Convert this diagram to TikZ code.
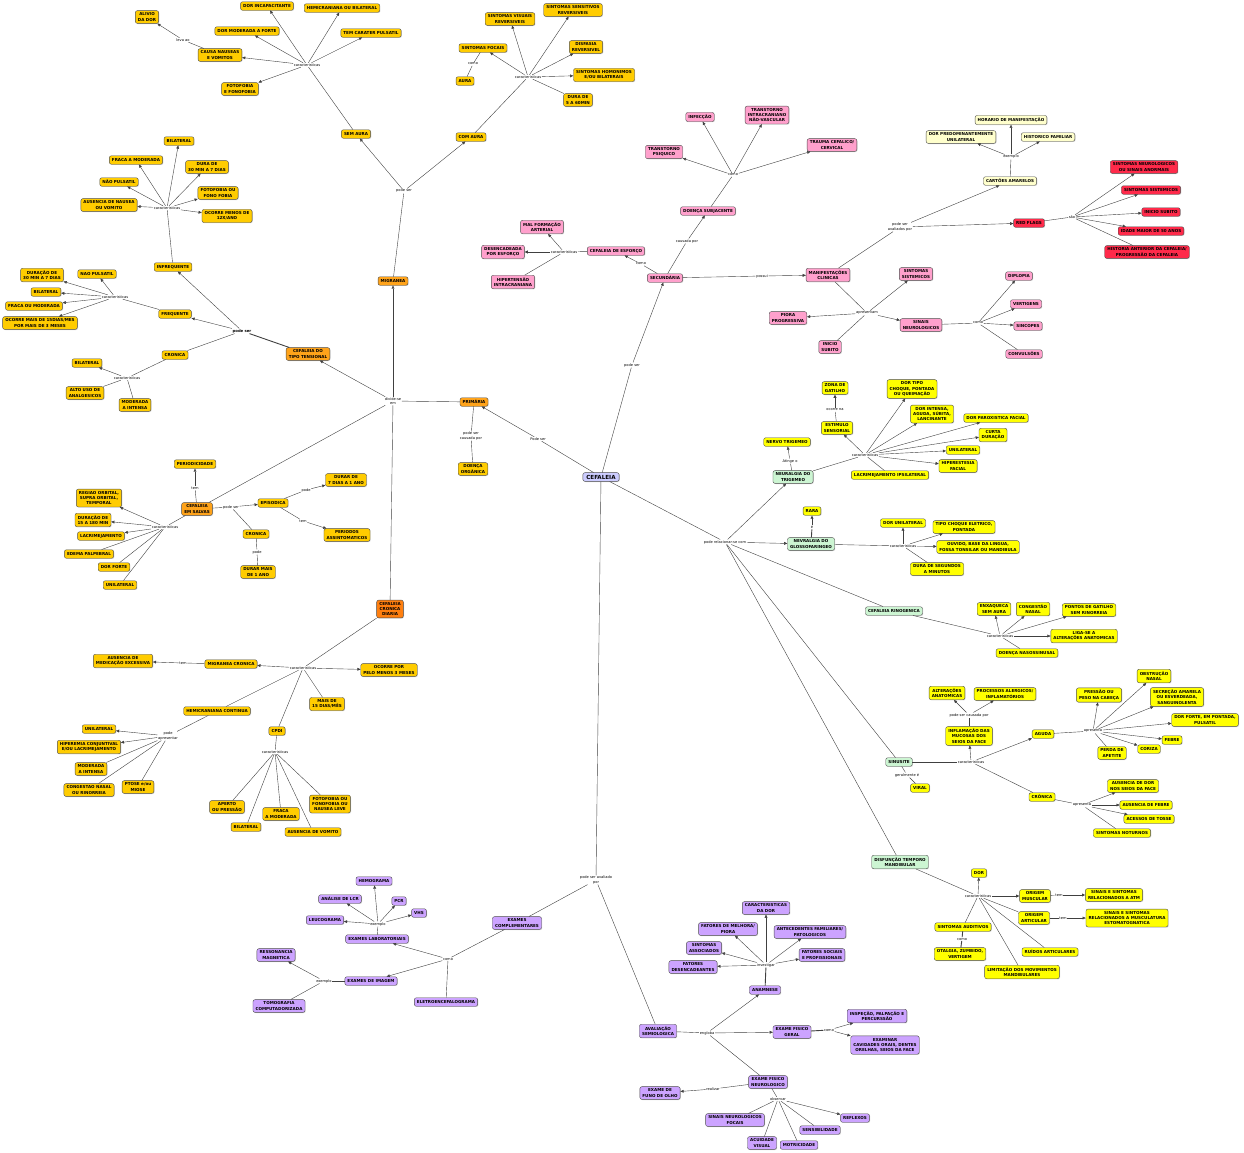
\documentclass[tikz,border=0pt]{standalone}
\usepackage{fontspec}
\setmainfont{DejaVu Sans}
\usetikzlibrary{arrows.meta,shadows}
\definecolor{cefblue}{HTML}{CCCCFF}
\definecolor{priorange}{HTML}{FFA31A}
\definecolor{ccdorange}{HTML}{FF7F0F}
\definecolor{gold}{HTML}{FFCC00}
\definecolor{secpink}{HTML}{FFA0CC}
\definecolor{flagred}{HTML}{FF2A4A}
\definecolor{cream}{HTML}{FFFFCC}
\definecolor{relgreen}{HTML}{CCF5D2}
\definecolor{relyellow}{HTML}{FFFF00}
\definecolor{avpurple}{HTML}{CCA3FF}

\begin{document}
\begin{tikzpicture}[x=1pt, y=-1pt,
  box/.style={draw=black!70, rounded corners=2pt, align=center,
              inner xsep=2.6pt, inner ysep=2.2pt, minimum height=8.5pt,
              font=\fontsize{4.1}{5.2}\selectfont\bfseries,
              drop shadow={shadow xshift=0.7pt, shadow yshift=-0.7pt, opacity=0.3}},
  cef/.style={box, fill=cefblue, font=\fontsize{5.6}{6.5}\selectfont\bfseries, inner xsep=3.5pt},
  pri/.style={box, fill=priorange},
  ccd/.style={box, fill=ccdorange},
  gd/.style={box, fill=gold},
  pk/.style={box, fill=secpink},
  rd/.style={box, fill=flagred},
  cr/.style={box, fill=cream},
  gr/.style={box, fill=relgreen},
  yl/.style={box, fill=relyellow},
  pu/.style={box, fill=avpurple},
  lnk/.style={align=center, inner sep=0.6pt, fill=white,
              font=\fontsize{3.6}{4.2}\selectfont},
  ln/.style={draw=black!75, line width=0.4pt},
  ar/.style={ln, -{Triangle[length=3.2pt, width=2.8pt]}},
]
\useasboundingbox (0,0) rectangle (1244,1152);

% ---- migranea
\node[gd]  (n_alivio)   at (147,17)  {ALIVIO\\DA DOR};
\node[lnk] (k_leva)     at (183,40)  {leva ao};
\node[gd]  (n_causa)    at (220,55)  {CAUSA NAUSEAS\\E VOMITOS};
\node[gd]  (n_incap)    at (267,6)   {DOR INCAPACITANTE};
\node[gd]  (n_hemibil)  at (342,8)   {HEMICRANIANA OU BILATERAL};
\node[gd]  (n_modfor)   at (247,31)  {DOR MODERADA A FORTE};
\node[gd]  (n_pulsa)    at (371,33)  {TEM CARATER PULSATIL};
\node[lnk] (k_sa)       at (307,65)  {caracteristicas};
\node[gd]  (n_fotofono) at (240,89)  {FOTOFOBIA\\E FONOFOBIA};
\node[gd]  (n_semaura)  at (356,134) {SEM AURA};
\node[lnk] (k_migps)    at (404,191) {pode ser};
\node[pri] (n_migranea) at (393,281) {MIGRANEA};

\node[gd]  (n_sensit)   at (573,10)  {SINTOMAS SENSITIVOS\\REVERSIVEIS};
\node[gd]  (n_visuais)  at (510,19)  {SINTOMAS VISUAIS\\REVERSIVEIS};
\node[gd]  (n_focais)   at (483,48)  {SINTOMAS FOCAIS};
\node[gd]  (n_disfasia) at (586,47)  {DISFASIA\\REVERSIVEL};
\node[lnk] (k_como1)    at (473,64)  {como};
\node[gd]  (n_aura)     at (465,81)  {AURA};
\node[lnk] (k_ca)       at (528,77)  {caracteristicas};
\node[gd]  (n_homon)    at (604,75)  {SINTOMAS HOMONIMOS\\E/OU BILATERAIS};
\node[gd]  (n_dura560)  at (578,100) {DURA DE\\5 A 60MIN};
\node[gd]  (n_comaura)  at (471,137) {COM AURA};

% ---- tipo tensional
\node[gd]  (n_bil1)     at (179,141) {BILATERAL};
\node[gd]  (n_fraca1)   at (136,160) {FRACA A MODERADA};
\node[gd]  (n_dura30)   at (207,167) {DURA DE\\30 MIN A 7 DIAS};
\node[gd]  (n_naopul1)  at (119,182) {NÃO PULSATIL};
\node[gd]  (n_fotofono2) at (218,193) {FOTOFOBIA OU\\FONO FOBIA};
\node[gd]  (n_ausnau)   at (109,205) {AUSENCIA DE NAUSEA\\OU VOMITO};
\node[lnk] (k_inf)      at (167,208) {caracteristicas};
\node[gd]  (n_menos12)  at (227,216) {OCORRE MENOS DE\\12X/ANO};
\node[gd]  (n_infreq)   at (173,267) {INFREQUENTE};

\node[gd]  (n_dur30b)   at (42,275)  {DURAÇÃO DE\\30 MIN A 7 DIAS};
\node[gd]  (n_naopul2)  at (97,274)  {NAO PULSATIL};
\node[gd]  (n_bil2)     at (46,292)  {BILATERAL};
\node[lnk] (k_freq)     at (115,297) {caracteristicas};
\node[gd]  (n_fracaou)  at (34,306)  {FRACA OU MODERADA};
\node[gd]  (n_mais15)   at (40,323)  {OCORRE MAIS DE 15DIAS/MES\\POR MAIS DE 3 MESES};
\node[gd]  (n_freq)     at (175,314) {FREQUENTE};
\node[lnk, font=\fontsize{3.8}{4.4}\selectfont\bfseries] (k_ttps) at (242,331) {pode ser};
\node[pri] (n_tens)     at (308,354) {CEFALEIA DO\\TIPO TENSIONAL};
\node[gd]  (n_cron1)    at (175,355) {CRONICA};
\node[gd]  (n_bil3)     at (87,363)  {BILATERAL};
\node[lnk] (k_cron1)    at (127,378) {caracteristicas};
\node[gd]  (n_altouso)  at (85,393)  {ALTO USO DE\\ANALGESICOS};
\node[gd]  (n_modint1)  at (135,405) {MODERADA\\A INTENSA};
\node[lnk] (k_div)      at (393,401) {divide-se\\em};
\node[pri] (n_prim)     at (474,402) {PRIMÁRIA};

% ---- em salvas
\node[gd]  (n_period)   at (195,464) {PERIODICIDADE};
\node[lnk] (k_tem1)     at (195,488) {tem};
\node[pri] (n_salvas)   at (197,509) {CEFALEIA\\EM SALVAS};
\node[gd]  (n_regiao)   at (99,498)  {REGIAO ORBITAL,\\SUPRA ORBITAL,\\TEMPORAL};
\node[gd]  (n_dur15)    at (93,520)  {DURAÇÃO DE\\15 A 180 MIN};
\node[lnk] (k_sal)      at (165,527) {caracteristicas};
\node[gd]  (n_lacri)    at (101,536) {LACRIMEJAMENTO};
\node[gd]  (n_edema)    at (89,554)  {EDEMA PALPEBRAL};
\node[gd]  (n_dorforte) at (114,567) {DOR FORTE};
\node[gd]  (n_unil1)    at (120,585) {UNILATERAL};
\node[lnk] (k_salps)    at (231,507) {pode ser};
\node[gd]  (n_episod)   at (273,503) {EPISODICA};
\node[lnk] (k_pode1)    at (306,490) {pode};
\node[gd]  (n_durar7)   at (346,480) {DURAR DE\\7 DIAS A 1 ANO};
\node[lnk] (k_tem2)     at (303,521) {tem};
\node[gd]  (n_periodos) at (347,535) {PERIODOS\\ASSINTOMATICOS};
\node[gd]  (n_cron2)    at (256,534) {CRONICA};
\node[lnk] (k_pode2)    at (257,552) {pode};
\node[gd]  (n_durar1)   at (258,572) {DURAR MAIS\\DE 1 ANO};

% ---- cronica diaria
\node[ccd] (n_ccd)      at (390,609) {CEFALEIA\\CRONICA\\DIARIA};
\node[gd]  (n_ausmed)   at (123,661) {AUSENCIA DE\\MEDICAÇÃO EXCESSIVA};
\node[lnk] (k_tem3)     at (183,663) {tem};
\node[gd]  (n_migcron)  at (231,664) {MIGRANEA CRONICA};
\node[lnk] (k_ccd)      at (303,668) {caracteristicas};
\node[gd]  (n_pelo3)    at (389,670) {OCORRE POR\\PELO MENOS 3 MESES};
\node[gd]  (n_mais15b)  at (327,704) {MAIS DE\\15 DIAS/MÊS};
\node[gd]  (n_hemicont) at (217,711) {HEMICRANIANA CONTINUA};
\node[gd]  (n_cpdi)     at (277,731) {CPDI};
\node[lnk] (k_podeap)   at (168,736) {pode\\apresentar};
\node[gd]  (n_unil2)    at (99,729)  {UNILATERAL};
\node[gd]  (n_hiper)    at (89,747)  {HIPEREMIA CONJUNTIVAL\\E/OU LACRIMEJAMENTO};
\node[gd]  (n_modint2)  at (91,769)  {MODERADA\\A INTENSA};
\node[gd]  (n_congest)  at (89,790)  {CONGESTAO NASAL\\OU RINORREIA};
\node[gd]  (n_ptose)    at (138,787) {PTOSE e/ou\\MIOSE};
\node[lnk] (k_cpdi)     at (275,752) {caracteristicas};
\node[gd]  (n_aperto)   at (227,807) {APERTO\\OU PRESSÃO};
\node[gd]  (n_fraca2)   at (281,814) {FRACA\\A MODERADA};
\node[gd]  (n_fotonau)  at (330,804) {FOTOFOBIA OU\\FONOFOBIA OU\\NAUSEA LEVE};
\node[gd]  (n_bil4)     at (246,827) {BILATERAL};
\node[gd]  (n_ausvom)   at (313,832) {AUSENCIA DE VOMITO};

% ---- centro e secundaria
\node[cef] (n_cef)      at (601,477) {CEFALEIA};
\node[lnk] (k_pode_prim) at (538,439) {Pode ser};
\node[lnk] (k_causorg)  at (471,436) {pode ser\\causada por};
\node[gd]  (n_doorg)    at (473,469) {DOENÇA\\ORGÂNICA};
\node[lnk] (k_pode_sec) at (632,365) {pode ser};
\node[pk]  (n_sec)      at (665,278) {SECUNDÁRIA};
\node[lnk] (k_causada)  at (687,241) {causada por};
\node[pk]  (n_subj)     at (708,211) {DOENÇA SUBJACENTE};
\node[lnk] (k_como2)    at (733,175) {como};
\node[pk]  (n_infec)    at (700,117) {INFECÇÃO};
\node[pk]  (n_intracr)  at (767,115) {TRANSTORNO\\INTRACRANIANO\\NÃO-VASCULAR};
\node[pk]  (n_psiq)     at (664,152) {TRANSTORNO\\PSIQUICO};
\node[pk]  (n_trauma)   at (832,145) {TRAUMA CEFALICO/\\CERVICAL};
\node[pk]  (n_malf)     at (542,227) {MAL FORMAÇÃO\\ARTERIAL};
\node[pk]  (n_desenc)   at (503,252) {DESENCADEADA\\POR ESFORÇO};
\node[lnk] (k_esf)      at (564,252) {caracteristicas};
\node[pk]  (n_esforco)  at (616,251) {CEFALEIA DE ESFORÇO};
\node[lnk] (k_como3)    at (641,264) {como};
\node[pk]  (n_hiperint) at (513,282) {HIPERTENSÃO\\INTRACRANIANA};
\node[lnk] (k_possui)   at (762,276) {possui};
\node[pk]  (n_manif)    at (828,275) {MANIFESTAÇÕES\\CLINICAS};
\node[lnk] (k_aval)     at (900,227) {pode ser\\avaliados por};
\node[cr]  (n_cartoes)  at (1010,181) {CARTÕES AMARELOS};
\node[lnk] (k_exem1)    at (1011,157) {exemplo};
\node[cr]  (n_horario)  at (1011,120) {HORARIO DE MANIFESTAÇÃO};
\node[cr]  (n_predom)   at (961,137) {DOR PREDOMINANTEMENTE\\UNILATERAL};
\node[cr]  (n_histfam)  at (1048,137) {HISTORICO FAMILIAR};
\node[rd]  (n_redfl)    at (1029,223) {RED FLAGS};
\node[lnk] (k_sao)      at (1072,217) {são};
\node[rd]  (n_sneuro)   at (1144,167) {SINTOMAS NEUROLOGICOS\\OU SINAIS ANORMAIS};
\node[rd]  (n_ssist1)   at (1151,190) {SINTOMAS SISTEMICOS};
\node[rd]  (n_inisub1)  at (1161,212) {INICIO SUBITO};
\node[rd]  (n_idade)    at (1151,231) {IDADE MAIOR DE 50 ANOS};
\node[rd]  (n_histant)  at (1147,252) {HISTORIA ANTERIOR DA CEFALEIA/\\PROGRESSÃO DA CEFALEIA};
\node[pk]  (n_ssist2)   at (916,274) {SINTOMAS\\SISTEMICOS};
\node[pk]  (n_diplo)    at (1019,276) {DIPLOPIA};
\node[lnk] (k_apres)    at (867,313) {apresentam};
\node[pk]  (n_sinneu)   at (921,325) {SINAIS\\NEUROLOGICOS};
\node[lnk] (k_como4)    at (978,323) {como};
\node[pk]  (n_vert)     at (1026,304) {VERTIGENS};
\node[pk]  (n_sinc)     at (1028,326) {SINCOPES};
\node[pk]  (n_conv)     at (1024,354) {CONVULSÕES};
\node[pk]  (n_piora)    at (788,318) {PIORA\\PROGRESSIVA};
\node[pk]  (n_inisub2)  at (830,347) {INICIO\\SUBITO};

% ---- neuralgias
\node[yl]  (n_zona)     at (835,388) {ZONA DE\\GATILHO};
\node[lnk] (k_ocorre)   at (835,410) {ocorre na};
\node[yl]  (n_estim)    at (837,428) {ESTIMULO\\SENSORIAL};
\node[yl]  (n_choque)   at (912,389) {DOR TIPO\\CHOQUE, PONTADA\\OU QUEIMAÇÃO};
\node[yl]  (n_intensa)  at (932,414) {DOR INTENSA,\\AGUDA, SÚBITA,\\LANCINANTE};
\node[yl]  (n_parox)    at (996,418) {DOR PAROXISTICA FACIAL};
\node[yl]  (n_curta)    at (993,435) {CURTA\\DURAÇÃO};
\node[lnk] (k_trig)     at (865,455) {caracteristicas};
\node[yl]  (n_unil3)    at (963,450) {UNILATERAL};
\node[yl]  (n_hiperest) at (958,466) {HIPERESTESIA\\FACIAL};
\node[yl]  (n_lacips)   at (890,475) {LACRIMEJAMENTO IPSILATERAL};
\node[yl]  (n_nervo)    at (787,442) {NERVO TRIGEMEO};
\node[lnk] (k_atinge)   at (790,461) {Atinge o};
\node[gr]  (n_trig)     at (793,477) {NEURALGIA DO\\TRIGEMEO};
\node[yl]  (n_rara)     at (812,511) {RARA};
\node[lnk] (k_e)        at (812,527) {é};
\node[gr]  (n_glosso)   at (811,544) {NEVRALGIA DO\\GLOSSOFARINGEO};
\node[lnk] (k_rel)      at (725,542) {pode relacionar-se com};
\node[yl]  (n_dorunil)  at (903,523) {DOR UNILATERAL};
\node[yl]  (n_choqel)   at (964,527) {TIPO CHOQUE ELETRICO,\\PONTADA};
\node[lnk] (k_glo)      at (903,546) {caracteristicas};
\node[yl]  (n_ouvido)   at (978,547) {OUVIDO, BASE DA LINGUA,\\FOSSA TONSILAR OU MANDIBULA};
\node[yl]  (n_durseg)   at (937,569) {DURA DE SEGUNDOS\\A MINUTOS};

% ---- rinogenica e sinusite
\node[gr]  (n_rino)     at (894,611) {CEFALEIA RINOGENICA};
\node[yl]  (n_enxaq)    at (994,609) {ENXAQUECA\\SEM AURA};
\node[yl]  (n_congn)    at (1033,609) {CONGESTÃO\\NASAL};
\node[yl]  (n_pontos)   at (1089,610) {PONTOS DE GATILHO\\SEM RINORREIA};
\node[lnk] (k_rino)     at (1000,636) {caracteristicas};
\node[yl]  (n_liga)     at (1084,636) {LIGA-SE A\\ALTERAÇÕES ANATOMICAS};
\node[yl]  (n_nasos)    at (1027,653) {DOENÇA NASOSSINUSAL};
\node[yl]  (n_altan)    at (947,693) {ALTERAÇÕES\\ANATOMICAS};
\node[yl]  (n_proc)     at (1005,694) {PROCESSOS ALERGICOS/\\INFLAMATÓRIOS};
\node[lnk] (k_causinf)  at (969,715) {pode ser causada por};
\node[yl]  (n_inflam)   at (969,736) {INFLAMAÇÃO DAS\\MUCOSAS DOS\\SEIOS DA FACE};
\node[yl]  (n_obstr)    at (1154,676) {OBSTRUÇÃO\\NASAL};
\node[yl]  (n_pressao)  at (1099,695) {PRESSÃO OU\\PESO NA CABEÇA};
\node[yl]  (n_secrec)   at (1177,697) {SECREÇÃO AMARELA\\OU ESVERDEADA,\\SANGUINOLENTA};
\node[yl]  (n_dorpont)  at (1205,720) {DOR FORTE, EM PONTADA,\\PULSATIL};
\node[lnk] (k_apagu)    at (1093,731) {apresenta};
\node[yl]  (n_aguda)    at (1043,734) {AGUDA};
\node[yl]  (n_febre)    at (1172,740) {FEBRE};
\node[yl]  (n_coriza)   at (1149,749) {CORIZA};
\node[yl]  (n_apetite)  at (1112,753) {PERDA DE\\APETITE};
\node[gr]  (n_sinus)    at (899,762) {SINUSITE};
\node[lnk] (k_sin)      at (971,762) {caracteristicas};
\node[lnk] (k_geral)    at (907,775) {geralmente é};
\node[yl]  (n_viral)    at (920,788) {VIRAL};
\node[yl]  (n_ausdor)   at (1133,786) {AUSENCIA DE DOR\\NOS SEIOS DA FACE};
\node[yl]  (n_cron3)    at (1042,797) {CRÔNICA};
\node[lnk] (k_apcron)   at (1082,805) {apresenta};
\node[yl]  (n_ausfeb)   at (1146,805) {AUSENCIA DE FEBRE};
\node[yl]  (n_tosse)    at (1149,819) {ACESSOS DE TOSSE};
\node[yl]  (n_notur)    at (1122,833) {SINTOMAS NOTURNOS};

% ---- disfuncao temporo mandibular
\node[gr]  (n_dtm)      at (900,862) {DISFUNÇÃO TEMPORO\\MANDIBULAR};
\node[yl]  (n_dor)      at (979,873) {DOR};
\node[lnk] (k_dtm)      at (978,896) {caracteristicas};
\node[yl]  (n_origm)    at (1035,896) {ORIGEM\\MUSCULAR};
\node[lnk] (k_tem4)     at (1059,895) {tem};
\node[yl]  (n_atm)      at (1114,895) {SINAIS E SINTOMAS\\RELACIONADOS A ATM};
\node[yl]  (n_origa)    at (1034,918) {ORIGEM\\ARTICULAR};
\node[lnk] (k_tem5)     at (1063,918) {tem};
\node[yl]  (n_estom)    at (1127,918) {SINAIS E SINTOMAS\\RELACIONADOS A MUSCULATURA\\ESTOMATOGNATICA};
\node[yl]  (n_saud)     at (963,927) {SINTOMAS AUDITIVOS};
\node[lnk] (k_como5)    at (962,939) {como};
\node[yl]  (n_otal)     at (960,954) {OTALGIA, ZUMBIDO,\\VERTIGEM};
\node[yl]  (n_ruidos)   at (1050,952) {RUÍDOS ARTICULARES};
\node[yl]  (n_limit)    at (1022,972) {LIMITAÇÃO DOS MOVIMENTOS\\MANDIBULARES};

% ---- avaliacao
\node[lnk] (k_avpor)    at (596,880) {pode ser avaliado\\por};
\node[pu]  (n_excomp)   at (517,923) {EXAMES\\COMPLEMENTARES};
\node[lnk] (k_como6)    at (448,959) {como};
\node[pu]  (n_eeg)      at (446,1002) {ELETROENCEFALOGRAMA};
\node[pu]  (n_exlab)    at (377,939) {EXAMES LABORATORIAIS};
\node[lnk] (k_exem2)    at (378,924) {exemplo};
\node[pu]  (n_hemo)     at (374,881) {HEMOGRAMA};
\node[pu]  (n_lcr)      at (340,899) {ANÁLISE DE LCR};
\node[pu]  (n_pcr)      at (399,901) {PCR};
\node[pu]  (n_vhs)      at (419,913) {VHS};
\node[pu]  (n_leuco)    at (325,920) {LEUCOGRAMA};
\node[pu]  (n_eximg)    at (371,981) {EXAMES DE IMAGEM};
\node[lnk] (k_exem3)    at (324,981) {exemplo};
\node[pu]  (n_resson)   at (276,955) {RESSONANCIA\\MAGNETICA};
\node[pu]  (n_tomo)     at (279,1006) {TOMOGRAFIA\\COMPUTADORIZADA};
\node[pu]  (n_avsem)    at (658,1031) {AVALIAÇÃO\\SEMIOLOGICA};
\node[lnk] (k_engl)     at (707,1033) {engloba};
\node[pu]  (n_anam)     at (765,990) {ANAMNESE};
\node[lnk] (k_invest)   at (766,965) {investigar};
\node[pu]  (n_cardor)   at (766,908) {CARACTERISTICAS\\DA DOR};
\node[pu]  (n_melh)     at (728,929) {FATORES DE MELHORA/\\PIORA};
\node[pu]  (n_antec)    at (810,932) {ANTECEDENTES FAMILIARES/\\PATOLOGICOS};
\node[pu]  (n_sassoc)   at (704,948) {SINTOMAS\\ASSOCIADOS};
\node[pu]  (n_fsoc)     at (822,955) {FATORES SOCIAIS\\E PROFISSIONAIS};
\node[pu]  (n_fdes)     at (693,967) {FATORES\\DESENCADEANTES};
\node[pu]  (n_exger)    at (792,1032) {EXAME FISICO\\GERAL};
\node[lnk] (k_como7)    at (829,1030) {como};
\node[pu]  (n_insp)     at (877,1016) {INSPEÇÃO, PALPAÇÃO E\\PERCURSSÃO};
\node[pu]  (n_examinar) at (885,1045) {EXAMINAR\\CAVIDADES ORAIS, DENTES\\ORELHAS, SEIOS DA FACE};
\node[pu]  (n_exneu)    at (768,1082) {EXAME FISICO\\NEUROLOGICO};
\node[lnk] (k_real)     at (713,1089) {realizar};
\node[pu]  (n_fundo)    at (660,1093) {EXAME DE\\FUNO DE OLHO};
\node[lnk] (k_obs)      at (778,1099) {observar};
\node[pu]  (n_sneufoc)  at (735,1120) {SINAIS NEUROLOGICOS\\FOCAIS};
\node[pu]  (n_acuid)    at (762,1143) {ACUIDADE\\VISUAL};
\node[pu]  (n_motr)     at (799,1145) {MOTRICIDADE};
\node[pu]  (n_sensib)   at (820,1130) {SENSIBILIDADE};
\node[pu]  (n_reflex)   at (855,1118) {REFLEXOS};

% ================= connectors
\draw[ln] (n_migranea) -- (k_migps);
\foreach \t in {n_semaura, n_comaura} \draw[ar] (k_migps) -- (\t);
\draw[ln] (n_semaura) -- (k_sa);
\foreach \t in {n_incap, n_hemibil, n_modfor, n_pulsa, n_causa, n_fotofono}
  \draw[ar] (k_sa) -- (\t);
\draw[ln] (n_causa) -- (k_leva);
\draw[ar] (k_leva) -- (n_alivio);
\draw[ln] (n_comaura) -- (k_ca);
\foreach \t in {n_visuais, n_sensit, n_focais, n_disfasia, n_homon}
  \draw[ar] (k_ca) -- (\t);
\draw[ln] (k_ca) -- (n_dura560);
\draw[ln] (n_focais) -- (k_como1) -- (n_aura);

\draw[ln, line width=0.9pt] (n_tens) -- (k_ttps);
\foreach \t in {n_infreq, n_freq} \draw[ar] (k_ttps) -- (\t);
\draw[ln] (k_ttps) -- (n_cron1);
\draw[ln] (n_infreq) -- (k_inf);
\foreach \t in {n_bil1, n_fraca1, n_dura30, n_naopul1, n_fotofono2, n_ausnau, n_menos12}
  \draw[ar] (k_inf) -- (\t);
\draw[ln] (n_freq) -- (k_freq);
\foreach \t in {n_dur30b, n_naopul2, n_bil2, n_fracaou, n_mais15}
  \draw[ar] (k_freq) -- (\t);
\draw[ln] (n_cron1) -- (k_cron1);
\draw[ar] (k_cron1) -- (n_bil3);
\foreach \t in {n_altouso, n_modint1} \draw[ln] (k_cron1) -- (\t);

\draw[ln] (n_cef) -- (k_pode_prim);
\draw[ar] (k_pode_prim) -- (n_prim);
\draw[ln] (n_prim) -- (k_div);
\foreach \t in {n_migranea, n_tens} \draw[ar] (k_div) -- (\t);
\foreach \t in {n_salvas, n_ccd} \draw[ln] (k_div) -- (\t);
\draw[ln] (n_prim) -- (k_causorg) -- (n_doorg);

\draw[ln] (n_salvas) -- (k_tem1);
\draw[ar] (k_tem1) -- (n_period);
\draw[ln] (n_salvas) -- (k_salps);
\draw[ar] (k_salps) -- (n_episod);
\draw[ln] (k_salps) -- (n_cron2);
\draw[ln] (n_episod) -- (k_pode1);
\draw[ar] (k_pode1) -- (n_durar7);
\draw[ln] (n_episod) -- (k_tem2);
\draw[ar] (k_tem2) -- (n_periodos);
\draw[ln] (n_cron2) -- (k_pode2) -- (n_durar1);
\draw[ln] (n_salvas) -- (k_sal);
\foreach \t in {n_regiao, n_dur15, n_lacri} \draw[ar] (k_sal) -- (\t);
\foreach \t in {n_edema, n_dorforte, n_unil1} \draw[ln] (k_sal) -- (\t);

\draw[ln] (n_ccd) -- (k_ccd);
\foreach \t in {n_migcron, n_pelo3} \draw[ar] (k_ccd) -- (\t);
\foreach \t in {n_mais15b, n_hemicont, n_cpdi} \draw[ln] (k_ccd) -- (\t);
\draw[ln] (n_migcron) -- (k_tem3);
\draw[ar] (k_tem3) -- (n_ausmed);
\draw[ln] (n_hemicont) -- (k_podeap);
\foreach \t in {n_unil2, n_hiper} \draw[ar] (k_podeap) -- (\t);
\foreach \t in {n_modint2, n_congest, n_ptose} \draw[ln] (k_podeap) -- (\t);
\draw[ln] (n_cpdi) -- (k_cpdi);
\foreach \t in {n_aperto, n_bil4, n_fraca2, n_ausvom, n_fotonau} \draw[ln] (k_cpdi) -- (\t);

% secundaria
\draw[ln] (n_cef) -- (k_pode_sec);
\draw[ar] (k_pode_sec) -- (n_sec);
\draw[ln] (n_sec) -- (k_causada);
\draw[ar] (k_causada) -- (n_subj);
\draw[ln] (n_subj) -- (k_como2);
\foreach \t in {n_psiq, n_infec, n_intracr, n_trauma} \draw[ar] (k_como2) -- (\t);
\draw[ln] (n_sec) -- (k_como3);
\draw[ar] (k_como3) -- (n_esforco);
\draw[ln] (n_esforco) -- (k_esf);
\draw[ar] (k_esf) -- (n_malf);
\draw[ar, line width=0.9pt] (k_esf) -- (n_desenc);
\draw[ln] (k_esf) -- (n_hiperint);
\draw[ln] (n_sec) -- (k_possui);
\draw[ar] (k_possui) -- (n_manif);
\draw[ln] (n_manif) -- (k_aval);
\foreach \t in {n_cartoes, n_redfl} \draw[ar] (k_aval) -- (\t);
\draw[ln] (n_cartoes) -- (k_exem1);
\foreach \t in {n_horario, n_predom, n_histfam} \draw[ar] (k_exem1) -- (\t);
\draw[ln] (n_redfl) -- (k_sao);
\foreach \t in {n_sneuro, n_ssist1, n_inisub1, n_idade} \draw[ar] (k_sao) -- (\t);
\draw[ln] (k_sao) -- (n_histant);
\draw[ln] (n_manif) -- (k_apres);
\foreach \t in {n_ssist2, n_sinneu, n_piora} \draw[ar] (k_apres) -- (\t);
\draw[ln] (k_apres) -- (n_inisub2);
\draw[ln] (n_sinneu) -- (k_como4);
\foreach \t in {n_diplo, n_vert, n_sinc} \draw[ar] (k_como4) -- (\t);
\draw[ln] (k_como4) -- (n_conv);

% relacoes
\draw[ln] (n_cef) -- (k_rel);
\foreach \t in {n_trig, n_glosso} \draw[ar] (k_rel) -- (\t);
\foreach \t in {n_rino, n_sinus, n_dtm} \draw[ln] (k_rel) -- (\t);
\draw[ln] (n_trig) -- (k_atinge);
\draw[ar] (k_atinge) -- (n_nervo);
\draw[ln] (n_trig) -- (k_trig);
\foreach \t in {n_estim, n_choque, n_intensa, n_parox, n_curta, n_unil3, n_hiperest}
  \draw[ar] (k_trig) -- (\t);
\draw[ln] (k_trig) -- (n_lacips);
\draw[ln] (n_estim) -- (k_ocorre);
\draw[ar, line width=0.9pt] (k_ocorre) -- (n_zona);
\draw[ln, line width=0.9pt] (n_glosso) -- (k_e);
\draw[ar, line width=0.9pt] (k_e) -- (n_rara);
\draw[ln] (n_glosso) -- (k_glo);
\draw[ar, line width=0.9pt] (k_glo) -- (n_dorunil);
\foreach \t in {n_choqel, n_ouvido} \draw[ar] (k_glo) -- (\t);
\draw[ln] (k_glo) -- (n_durseg);
\draw[ln] (n_rino) -- (k_rino);
\foreach \t in {n_enxaq, n_congn, n_pontos, n_liga} \draw[ar] (k_rino) -- (\t);
\draw[ln] (k_rino) -- (n_nasos);
\draw[ln] (n_sinus) -- (k_sin);
\foreach \t in {n_inflam, n_aguda} \draw[ar] (k_sin) -- (\t);
\draw[ln] (k_sin) -- (n_cron3);
\draw[ln] (n_sinus) -- (k_geral) -- (n_viral);
\draw[ln, line width=0.9pt] (n_inflam) -- (k_causinf);
\foreach \t in {n_altan, n_proc} \draw[ar] (k_causinf) -- (\t);
\draw[ln] (n_aguda) -- (k_apagu);
\foreach \t in {n_pressao, n_obstr, n_secrec, n_dorpont, n_febre, n_coriza}
  \draw[ar] (k_apagu) -- (\t);
\draw[ln] (k_apagu) -- (n_apetite);
\draw[ln] (n_cron3) -- (k_apcron);
\foreach \t in {n_ausdor, n_ausfeb, n_tosse} \draw[ar] (k_apcron) -- (\t);
\draw[ln] (k_apcron) -- (n_notur);
\draw[ln] (n_dtm) -- (k_dtm);
\draw[ar] (k_dtm) -- (n_dor);
\draw[ar, line width=0.9pt] (k_dtm) -- (n_origm);
\foreach \t in {n_origa, n_saud, n_ruidos, n_limit} \draw[ln] (k_dtm) -- (\t);
\draw[ln] (n_origm) -- (k_tem4);
\draw[ar, line width=0.9pt] (k_tem4) -- (n_atm);
\draw[ln] (n_origa) -- (k_tem5);
\draw[ar] (k_tem5) -- (n_estom);
\draw[ln, line width=0.9pt] (n_saud) -- (k_como5) -- (n_otal);

% avaliacao
\draw[ln] (n_cef) -- (k_avpor);
\foreach \t in {n_excomp, n_avsem} \draw[ln] (k_avpor) -- (\t);
\draw[ln] (n_excomp) -- (k_como6);
\foreach \t in {n_exlab, n_eximg} \draw[ar] (k_como6) -- (\t);
\draw[ln] (k_como6) -- (n_eeg);
\draw[ln] (n_exlab) -- (k_exem2);
\foreach \t in {n_hemo, n_lcr, n_pcr, n_vhs, n_leuco} \draw[ar] (k_exem2) -- (\t);
\draw[ln] (n_eximg) -- (k_exem3);
\draw[ar] (k_exem3) -- (n_resson);
\draw[ln] (k_exem3) -- (n_tomo);
\draw[ln] (n_avsem) -- (k_engl);
\foreach \t in {n_anam, n_exger} \draw[ar] (k_engl) -- (\t);
\draw[ln] (k_engl) -- (n_exneu);
\draw[ln, line width=0.9pt] (n_anam) -- (k_invest);
\foreach \t in {n_cardor, n_melh, n_antec, n_sassoc, n_fsoc, n_fdes}
  \draw[ar] (k_invest) -- (\t);
\draw[ln, line width=0.9pt] (n_exger) -- (k_como7);
\foreach \t in {n_insp, n_examinar} \draw[ar] (k_como7) -- (\t);
\draw[ln] (n_exneu) -- (k_real);
\draw[ar] (k_real) -- (n_fundo);
\draw[ln] (n_exneu) -- (k_obs);
\draw[ar] (k_obs) -- (n_reflex);
\foreach \t in {n_sensib, n_motr, n_acuid, n_sneufoc} \draw[ln] (k_obs) -- (\t);
\end{tikzpicture}
\end{document}
